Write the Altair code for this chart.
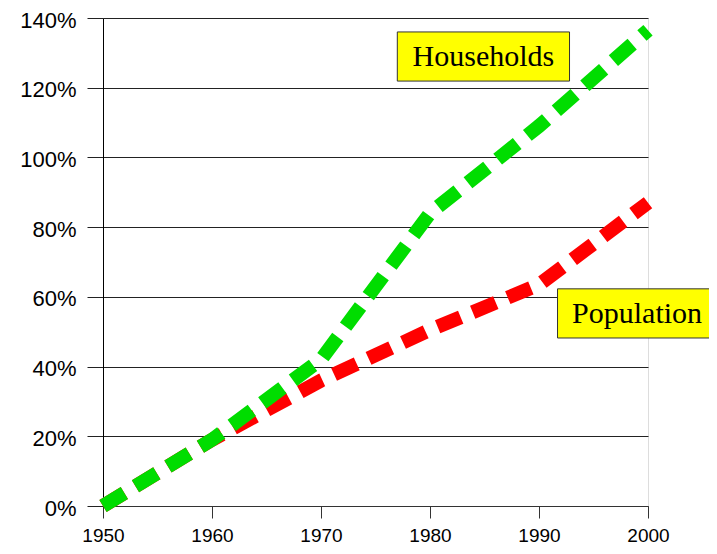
import altair as alt
import pandas as pd

years = [1950, 1960, 1970, 1980, 1990, 2000]
households = [0, 19, 42, 84, 109, 136.5]
population = [0, 19, 36, 50.5, 63.5, 87]

# annotation boxes (in data units)
labels = ["Households", "Population"]
label_x = [1984.9, 1999.0]
label_y = [128.8, 55.0]
box_x1 = [1977.0, 1991.7]
box_x2 = [1992.8, 2006.4]
box_y1 = [121.9, 48.2]
box_y2 = [136.0, 62.3]

df = pd.DataFrame({"year": years, "Households": households, "Population": population})
ann = pd.DataFrame({"label": labels, "x": label_x, "y": label_y,
                    "x1": box_x1, "x2": box_x2, "y1": box_y1, "y2": box_y2})

xs = alt.Scale(domain=[1950, 2000], nice=False, zero=False)
ys = alt.Scale(domain=[0, 140], nice=False)

xaxis = alt.Axis(values=years, format="d", grid=False, tickSize=12, tickColor="#333",
                 domainColor="#333", labelFont="Liberation Sans", labelFontSize=19,
                 labelColor="black", labelPadding=8, title=None, labelFlush=False)
yaxis = alt.Axis(values=[0, 20, 40, 60, 80, 100, 120, 140], labelExpr="datum.value + '%'",
                 grid=True, gridColor="#222", gridOpacity=1, tickSize=16, tickColor="#222",
                 domainColor="black", labelFont="Liberation Sans", labelFontSize=22,
                 labelOffset=2, labelFlush=False,
                 labelColor="black", labelPadding=11, title=None)

base = alt.Chart(df)

red = base.mark_line(color="#ff0000", strokeWidth=14, strokeDash=[25, 13], strokeCap="butt").encode(
    x=alt.X("year:Q", scale=xs, axis=xaxis),
    y=alt.Y("Population:Q", scale=ys, axis=yaxis),
)
green = base.mark_line(color="#00dd00", strokeWidth=14, strokeDash=[25, 13], strokeCap="butt").encode(
    x=alt.X("year:Q", scale=xs),
    y=alt.Y("Households:Q", scale=ys),
)

boxes = alt.Chart(ann).mark_rect(fill="#ffff00", stroke="#333", strokeWidth=1).encode(
    x=alt.X("x1:Q", scale=xs), x2="x2:Q",
    y=alt.Y("y1:Q", scale=ys), y2="y2:Q",
)
texts = alt.Chart(ann).mark_text(font="Liberation Serif", fontSize=30, color="black",
                                 align="center", baseline="middle").encode(
    x=alt.X("x:Q", scale=xs),
    y=alt.Y("y:Q", scale=ys),
    text="label:N",
)

chart = alt.layer(red, green, boxes, texts).properties(
    width=545, height=488,
    autosize=alt.AutoSizeParams(type="none"),
    padding={"left": 95, "top": 10, "right": 61, "bottom": 40},
).configure_view(stroke=None).configure(background="white")

chart.save("out.html", embed_options={"renderer": "svg", "actions": False})
